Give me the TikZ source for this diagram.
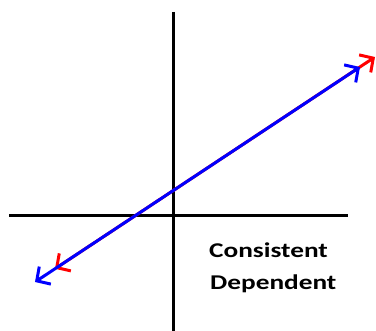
\documentclass[tikz,border=0pt]{standalone}
\usepackage{fontspec}
\newfontfamily\labelfont[FakeStretch=1.3]{Carlito}
\usetikzlibrary{arrows.meta}
\definecolor{linered}{RGB}{255,0,0}
\definecolor{lineblue}{RGB}{0,0,255}

\begin{document}
\begin{tikzpicture}[x=1pt,y=-1pt,
  axis/.style={line width=3pt,black},
  graphline/.style={line width=3pt,line cap=round,{Straight Barb[length=10pt,width=21pt,line width=3pt]}-{Straight Barb[length=10pt,width=21pt,line width=3pt]}},
  caselabel/.style={font=\labelfont\bfseries\fontsize{21}{25}\selectfont,anchor=base west,inner sep=0pt}]
  \useasboundingbox (0,0) rectangle (376,331);
  % axes
  \coordinate (ytop) at (173.5,12); \coordinate (ybot) at (173.5,331);
  \coordinate (xleft) at (9,215.5); \coordinate (xright) at (348,215.5);
  \draw[axis] (ytop) -- (ybot);
  \draw[axis] (xleft) -- (xright);
  % the two equations give one line
  \coordinate (redA) at (55,268.8); \coordinate (redB) at (375,57);
  \coordinate (blueA) at (35,282); \coordinate (blueB) at (360,67);
  \draw[graphline,linered] (redA) -- (redB);
  \draw[graphline,lineblue] (blueA) -- (blueB);
  \node[caselabel] (consistent) at (209,257.7) {Consistent};
  \node[caselabel] (dependent) at (210,290) {Dependent};
\end{tikzpicture}
\end{document}
